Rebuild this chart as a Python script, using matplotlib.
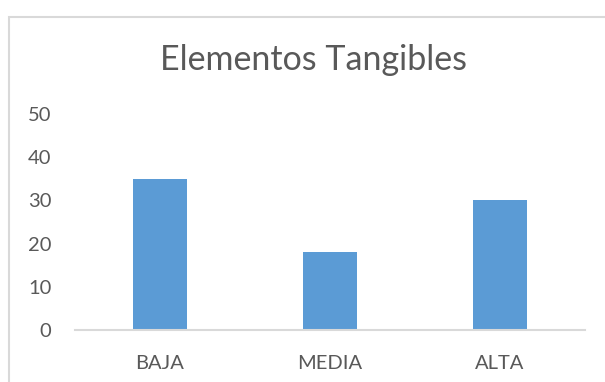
import matplotlib
matplotlib.use("Agg")
import matplotlib.pyplot as plt
from matplotlib.patches import Rectangle

categories = ["BAJA", "MEDIA", "ALTA"]
values = [35, 18, 30]
yticks = [0, 10, 20, 30, 40, 50]
title = "Elementos Tangibles"

W, H = 605, 382
fig = plt.figure(figsize=(W / 100, H / 100), dpi=100)
fig.patch.set_facecolor("white")

# outer chart border (extends beyond right/bottom of image)
fig.patches.append(Rectangle((9 / W, -0.05), 1.2, 0.05 + 1 - 17 / H,
                             transform=fig.transFigure, fill=False,
                             edgecolor="#D9D9D9", linewidth=1.5))

ax = fig.add_axes([75 / W, 1 - 330 / H, (585 - 75) / W, (330 - 114) / H])
x = range(len(categories))
ax.bar(x, values, width=0.32, color="#5B9BD5")
ax.set_xlim(-0.5, len(categories) - 0.5)
ax.set_ylim(0, 50)
ax.set_yticks(yticks)
ax.set_xticks(list(x))
ax.set_xticklabels(categories)
for s in ["top", "right", "left"]:
    ax.spines[s].set_visible(False)
ax.spines["bottom"].set_color("#D9D9D9")
ax.spines["bottom"].set_linewidth(1.5)
ax.tick_params(axis="both", length=0, colors="#595959", labelsize=14.5)
ax.tick_params(axis="y", pad=17)
ax.tick_params(axis="x", pad=18)
for lab in ax.get_xticklabels() + ax.get_yticklabels():
    lab.set_fontfamily("Lato")

fig.text(313 / W, 1 - 60 / H, title, ha="center", va="center",
         fontsize=24.5, color="#595959", family="Lato")

fig.savefig("out.png", dpi=100)
